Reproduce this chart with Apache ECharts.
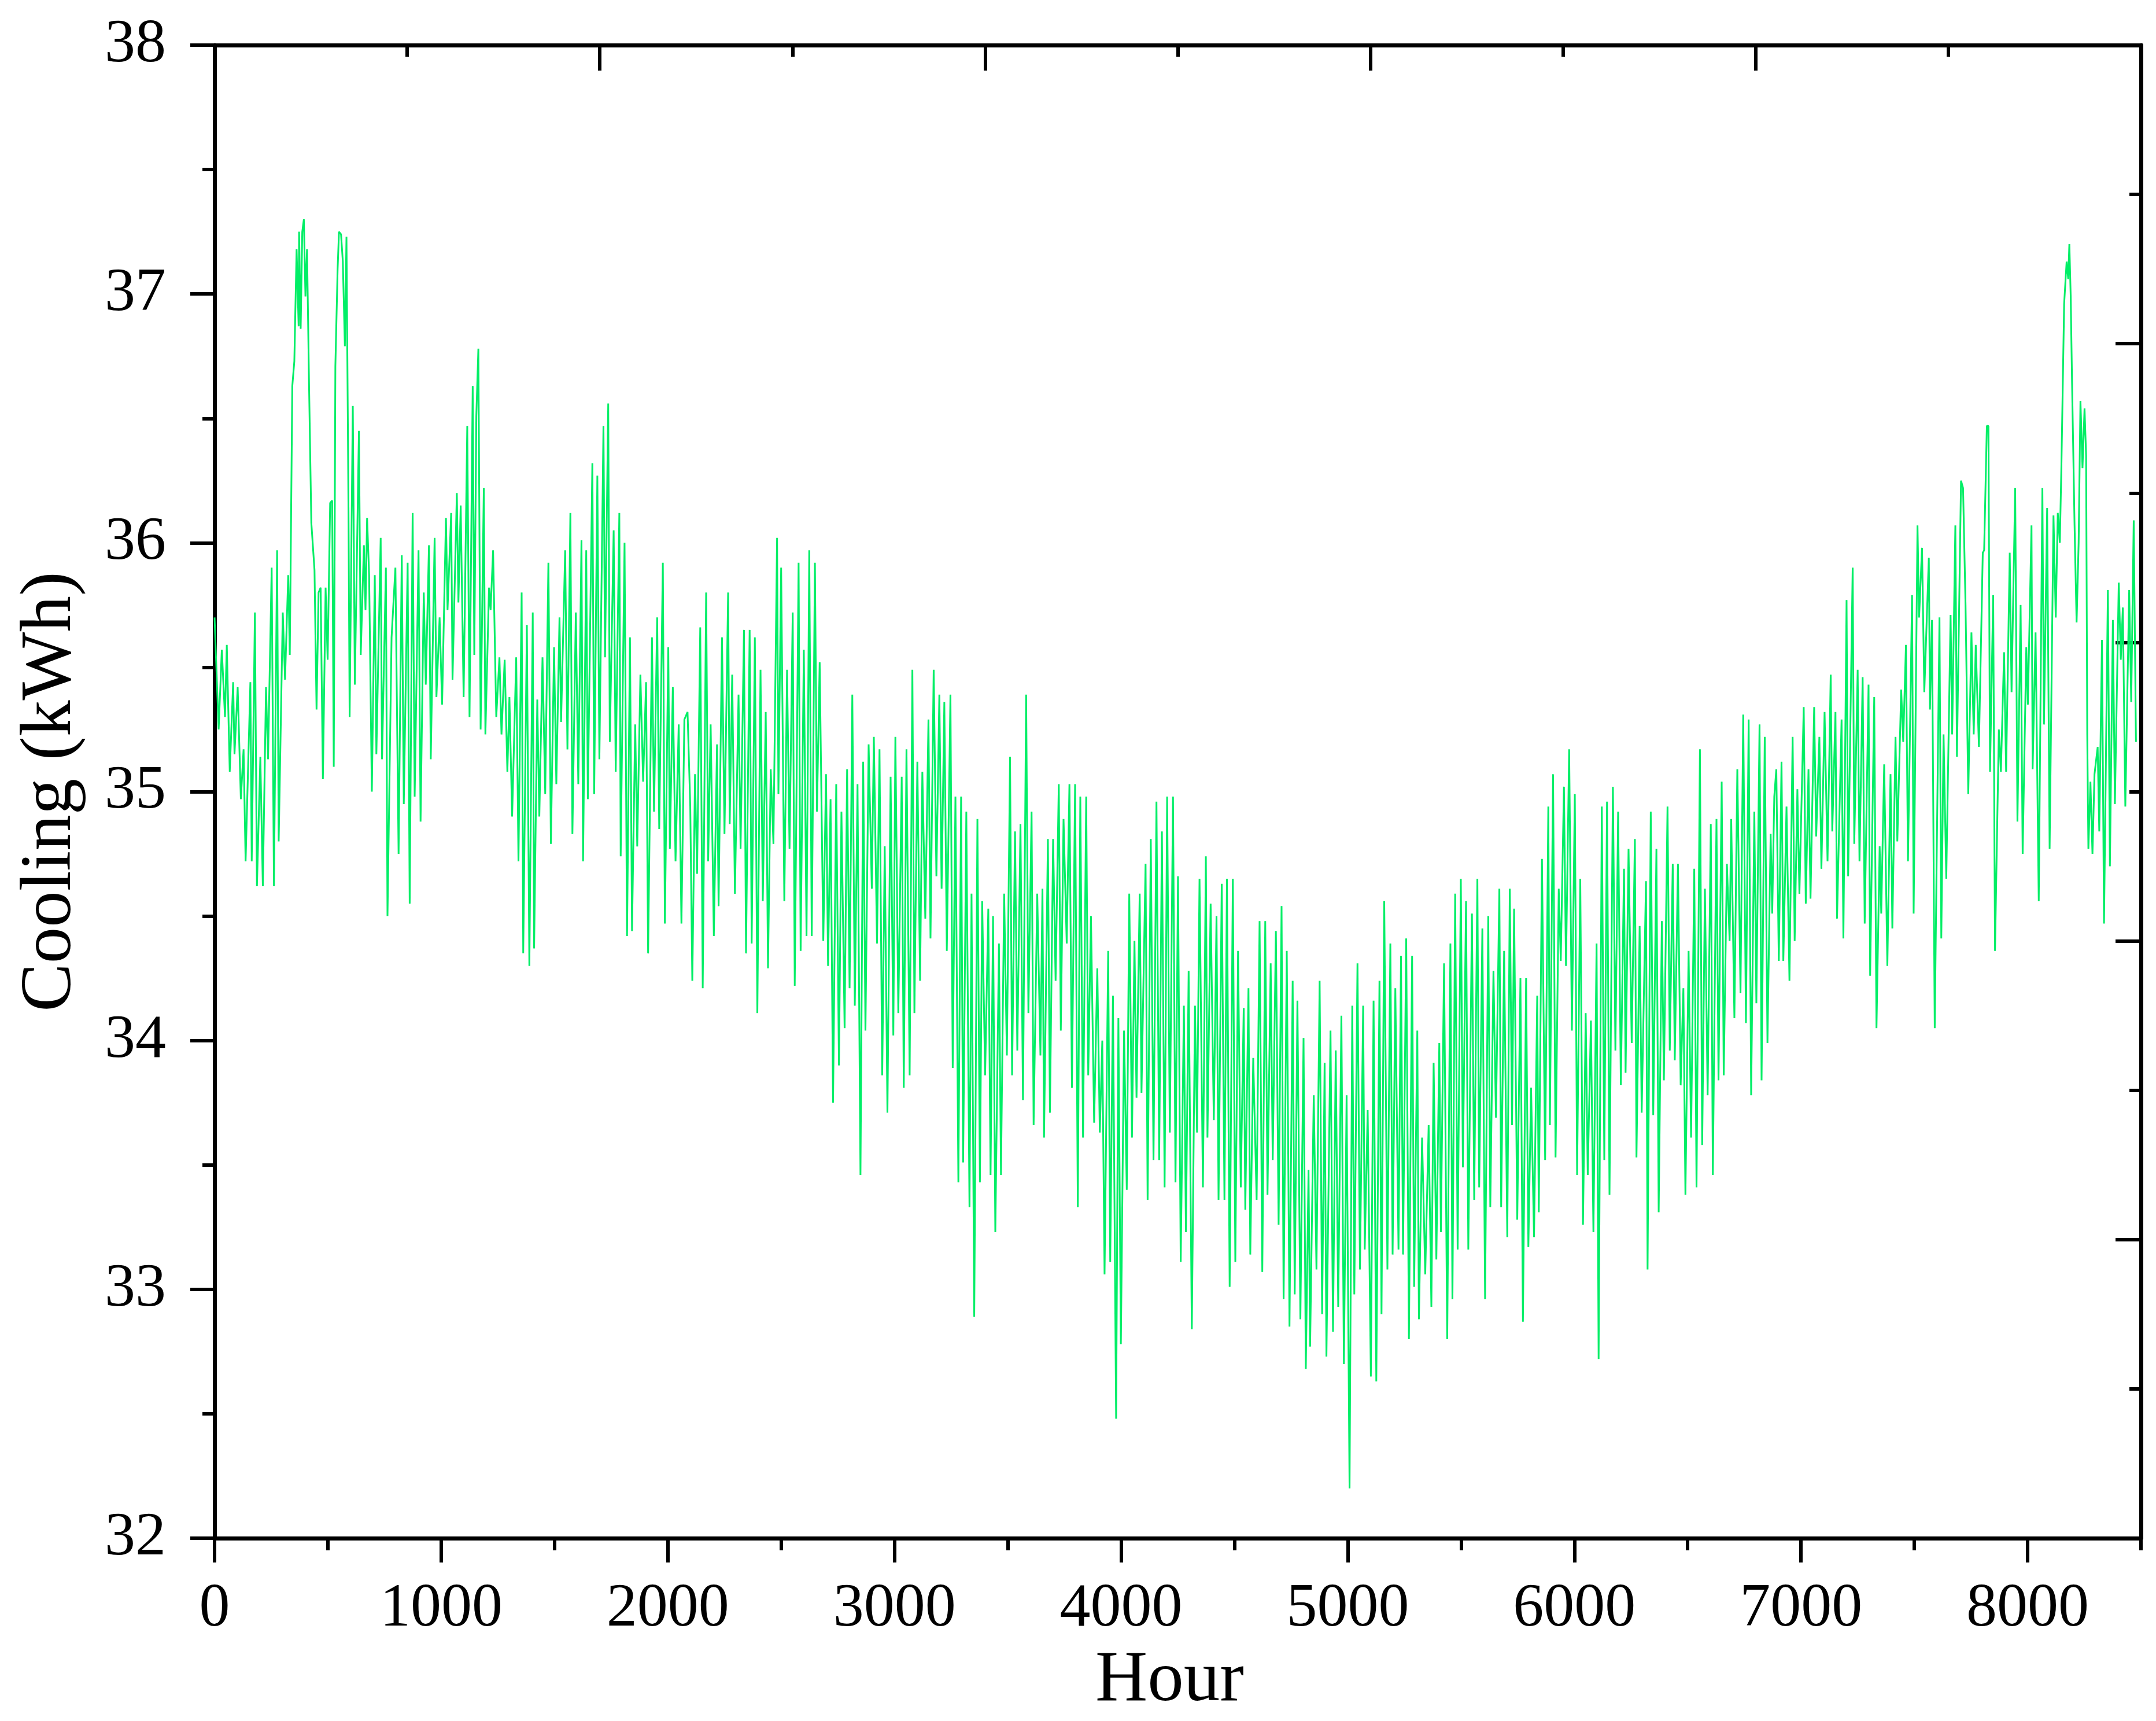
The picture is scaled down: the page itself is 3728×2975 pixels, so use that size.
<!DOCTYPE html>
<html>
<head>
<meta charset="utf-8">
<script src="https://cdn.jsdelivr.net/npm/echarts@6/dist/echarts.min.js"></script>
<style>
html,body{margin:0;padding:0;background:#fff;}
#chart{width:3728px;height:2975px;}
</style>
</head>
<body>
<div id="chart"></div>
<script>
// ---- data (hour, cooling kWh) ----
const hours = [
0,18,32,46,54,67,82,88,102,116,128,137,158,164,178,187,202,213,227,236,252,262,276,283,301,311,325,332,343,352,362,371,373,380,387,394,401,408,417,427,441,450,459,468,478,490,499,510,519,526,533,543,549,558,566,575,582,591,596,610,619,637,645,659,666,673,682,694,707,714,733,739,756,763,781,798,812,826,835,852,861,874,883,900,909,923,932,946,954,971,979,993,1004,1021,1028,1044,1050,1069,1076,1086,1099,1115,1125,1139,1146,1155,1164,1174,1188,1195,1211,1218,1229,1243,1257,1266,1280,1292,1301,1313,1331,1341,1355,1362,1378,1389,1404,1410,
1424,1433,1447,1459,1473,1484,1498,1508,1522,1529,1547,1557,1570,1579,1594,1605,1619,1626,1640,1647,1667,1675,1689,1698,1716,1723,1737,1744,1761,1770,1786,1792,1809,1820,1833,1842,1856,1865,1879,1891,1904,1913,1930,1939,1953,1962,1978,1987,2002,2009,2022,2034,2048,2060,2073,2087,2099,2108,2120,2129,2143,2154,2169,2178,2189,2203,2217,2224,2239,2250,2266,2273,2284,2296,2312,2321,2336,2345,2361,2370,2384,2395,2409,2419,2432,2442,2454,2466,2482,2488,2500,2514,2526,2537,2551,2560,2577,2586,2600,2612,2624,2635,2649,2658,2670,2686,2698,2707,2718,2729,2743,2755,2766,2780,2791,2802,2814,2825,
2837,2850,2862,2872,2886,2900,2909,2923,2934,2946,2957,2969,2983,2995,3004,3017,3032,3041,3053,3067,3079,3088,3101,3113,3123,3136,3150,3159,3173,3185,3198,3208,3220,3231,3247,3257,3269,3282,3294,3303,3317,3331,3340,3352,3366,3377,3387,3400,3414,3424,3435,3445,3461,3470,3484,3496,3510,3519,3532,3542,3556,3567,3581,3591,3605,3614,3630,3644,3653,3660,3677,3686,3700,3711,3725,3734,3746,3760,3772,3783,3797,3809,3820,3832,3846,3855,3867,3881,3895,3906,3917,3927,3943,3952,3964,3978,3988,3999,4013,4025,4036,4048,4059,4068,4082,4090,4108,4117,4131,4143,4156,4168,4180,4192,4203,4215,4229,4240,4251,4263,
4277,4286,4298,4312,4326,4335,4346,4361,4374,4381,4395,4409,4421,4430,4444,4456,4467,4479,4493,4504,4516,4528,4541,4548,4562,4570,4583,4598,4611,4623,4636,4646,4660,4669,4683,4695,4708,4717,4731,4743,4757,4766,4778,4791,4805,4815,4827,4834,4850,4862,4876,4887,4898,4906,4924,4935,4947,4958,4972,4983,4995,5008,5020,5029,5043,5054,5068,5075,5088,5102,5114,5126,5140,5149,5161,5175,5188,5198,5210,5224,5235,5244,5258,5270,5284,5293,5307,5314,5328,5342,5357,5369,5379,5391,5404,5411,5425,5439,5453,5462,5474,5485,5499,5508,5522,5532,5548,5558,5572,5580,5594,5606,5620,5629,5643,5654,5669,5677,
5690,5704,5715,5725,5734,5748,5762,5773,5787,5797,5809,5822,5836,5843,5857,5871,5885,5892,5906,5917,5931,5940,5954,5963,5977,5989,6002,6012,6026,6038,6050,6059,6073,6084,6098,6107,6121,6132,6144,6155,6170,6181,6193,6205,6219,6226,6239,6253,6267,6274,6288,6297,6316,6323,6337,6348,6362,6372,6386,6395,6411,6421,6434,6443,6457,6469,6481,6490,6504,6515,6529,6539,6554,6564,6576,6588,6602,6611,6627,6636,6650,6659,6673,6685,6692,6706,6719,6733,6745,6757,6769,6780,6794,6803,6817,6826,6840,6852,6866,6873,6882,6891,6902,6914,6922,6936,6949,6963,6972,6984,6993,7012,7021,7033,7042,7058,7067,7081,7090,7104,
7117,7131,7138,7152,7159,7179,7187,7201,7208,7228,7235,7250,7258,7272,7281,7298,7305,7323,7333,7347,7354,7367,7381,7395,7403,7417,7425,7442,7451,7463,7472,7490,7497,7514,7521,7534,7544,7564,7569,7578,7590,7611,7619,7629,7641,7660,7667,7681,7688,7706,7715,7726,7738,7752,7762,7771,7785,7794,7802,7808,7820,7827,7834,7848,7856,7873,7882,7896,7905,7921,7929,7945,7955,7969,7978,7994,8001,8017,8022,8035,8049,8065,8072,8086,8097,8114,8124,8133,8142,8149,8161,8172,8179,8184,8190,8196,8207,8216,8225,8233,8242,8251,8258,8263,8268,8277,8286,8295,8309,8316,8328,8337,8354,8363,8376,8385,8402,8411,8420,8431,8448,8457,8468,8478
];
const cooling = [
35.70,35.25,35.57,35.30,35.59,35.08,35.44,35.15,35.42,34.97,35.17,34.72,35.44,34.72,35.72,34.62,35.14,34.62,35.42,35.13,35.90,34.62,35.97,34.80,35.72,35.45,35.87,35.55,36.63,36.73,37.18,36.87,37.25,36.86,37.25,37.30,36.99,37.18,36.63,36.08,35.89,35.33,35.80,35.82,35.05,35.82,35.53,36.16,36.17,35.10,36.71,37.10,37.25,37.24,37.13,36.79,37.23,36.13,35.30,36.55,35.43,36.45,35.55,35.99,35.73,36.10,35.87,35.00,35.87,35.15,36.02,35.13,35.90,34.50,35.62,35.90,34.75,35.95,34.95,35.92,34.55,36.12,34.98,35.97,34.88,35.80,35.43,35.99,35.13,36.02,35.38,35.70,35.35,36.10,35.73,36.12,35.45,36.20,35.76,36.15,35.38,36.47,35.30,36.63,35.55,36.51,36.78,35.25,36.22,35.23,35.82,35.73,35.97,35.30,35.54,35.23,35.53,35.08,35.38,34.90,35.54,34.72,35.80,34.35,35.67,34.30,35.72,34.37,
35.37,34.90,35.54,34.99,35.92,34.79,35.58,35.03,35.70,35.28,35.97,35.17,36.12,34.83,35.72,35.03,36.01,34.72,35.97,34.97,36.32,34.99,36.27,35.13,36.47,35.54,36.56,35.20,36.05,35.08,36.12,34.74,36.00,34.42,35.62,34.44,35.27,34.78,35.47,35.04,35.44,34.35,35.62,34.92,35.70,34.85,35.92,34.47,35.58,34.77,35.42,34.72,35.27,34.47,35.29,35.32,34.94,34.24,35.07,34.67,35.66,34.21,35.80,34.72,35.27,34.42,35.19,34.54,35.62,34.83,35.80,34.87,35.47,34.59,35.39,34.77,35.65,34.35,35.65,34.39,35.62,34.11,35.49,34.56,35.32,34.29,35.09,34.79,36.02,34.99,35.90,34.56,35.49,34.77,35.72,34.22,35.92,34.36,35.57,34.42,35.97,34.42,35.92,34.92,35.52,34.40,35.07,34.30,34.97,33.75,35.03,33.90,34.92,34.05,35.09,34.21,35.39,34.14,
35.03,33.46,35.12,34.04,35.19,34.61,35.22,34.39,35.17,33.86,34.78,33.71,35.06,34.02,35.22,34.11,35.06,33.81,35.17,33.86,35.49,34.11,35.12,34.24,35.08,34.49,35.29,34.41,35.49,34.66,35.39,34.61,35.36,34.36,35.39,33.89,34.98,33.43,34.98,33.51,34.92,33.33,34.59,32.89,34.89,33.43,34.56,33.86,34.53,33.46,34.50,33.23,34.39,33.46,34.59,33.94,35.14,33.86,34.84,33.96,34.87,33.76,35.39,34.11,34.92,33.66,34.59,33.94,34.61,33.61,34.81,33.71,34.81,34.24,35.03,34.04,34.89,34.39,35.03,33.81,35.03,33.33,34.98,33.61,34.98,33.86,34.50,33.67,34.29,33.63,34.00,33.06,34.36,33.11,34.18,32.48,34.09,32.78,34.04,33.40,34.59,33.61,34.40,33.77,34.59,33.79,34.71,33.36,34.81,33.52,34.96,33.52,34.84,33.41,34.98,33.63,34.98,33.43,34.66,33.11,
34.14,33.23,34.28,32.84,34.14,33.63,34.65,33.41,34.74,33.61,34.55,33.68,34.50,33.36,34.63,33.36,34.65,33.01,34.65,33.11,34.36,33.41,34.13,33.32,34.21,33.14,33.93,33.36,34.48,33.07,34.48,33.38,34.31,33.52,34.44,33.26,34.54,32.96,34.36,32.85,34.24,32.98,34.16,32.88,34.01,32.68,33.48,32.77,33.78,33.08,34.24,32.90,33.91,32.73,34.04,32.83,33.96,32.93,34.10,32.70,33.78,32.20,34.14,32.98,34.31,33.08,34.14,33.16,33.72,32.65,34.16,32.63,34.24,32.90,34.56,33.08,34.39,33.14,34.21,33.16,34.34,33.14,34.41,32.80,34.34,33.01,34.04,32.88,33.61,33.06,33.66,32.93,33.91,33.12,33.99,33.23,34.31,32.80,34.39,32.96,34.59,33.16,34.65,33.49,34.56,33.16,34.51,33.36,34.65,33.41,34.45,32.96,34.50,33.33,34.28,33.69,34.61,33.33,
34.36,33.21,34.61,33.66,34.53,33.28,34.25,32.87,34.25,33.17,33.81,33.21,34.18,33.31,34.73,33.52,34.94,33.66,35.07,33.53,34.61,34.32,35.02,34.30,35.17,34.04,34.99,33.46,34.65,33.26,34.11,33.46,34.08,33.23,34.39,32.72,34.94,33.52,34.96,33.38,35.02,33.96,34.92,33.82,34.69,33.87,34.77,33.99,34.81,33.53,34.46,33.71,34.64,33.08,34.92,33.70,34.77,33.31,34.48,33.84,34.94,33.96,34.71,33.92,34.71,33.82,34.21,33.38,34.36,33.61,34.69,33.41,35.17,33.58,34.61,33.78,34.87,33.46,34.89,33.84,35.04,33.86,34.71,34.40,34.89,34.09,35.09,34.19,35.31,34.07,35.29,33.78,34.92,34.15,35.27,33.84,35.22,33.99,34.83,34.51,34.98,35.09,34.32,35.12,34.32,34.94,34.24,35.22,34.40,35.01,34.59,35.34,34.55,35.09,34.57,35.34,34.82,35.22,34.69,35.32,
34.72,35.47,34.84,35.32,34.49,35.29,34.41,35.77,34.66,35.90,34.79,35.49,34.72,35.46,34.47,35.43,34.26,35.38,34.05,34.78,34.51,35.11,34.30,35.07,34.45,35.22,34.80,35.41,35.20,35.59,34.72,35.79,34.51,36.07,35.70,35.98,35.40,35.94,35.33,35.69,34.05,35.70,34.41,35.23,34.65,35.71,35.23,36.07,35.14,36.25,36.22,35.75,34.99,35.64,35.23,35.59,35.18,35.59,35.96,35.97,36.47,36.47,35.08,35.79,34.36,35.25,35.08,35.56,35.08,35.96,35.40,36.22,34.88,35.75,34.75,35.58,35.35,36.07,35.09,35.64,34.56,36.22,35.27,36.14,34.77,36.11,35.70,36.12,36.00,36.31,36.96,37.13,37.06,37.20,36.99,36.64,36.07,35.68,36.00,36.57,36.30,36.54,36.35,35.23,34.77,35.04,34.75,35.07,35.18,34.84,35.61,34.47,35.81,34.70,35.69,34.95,35.84,35.53,35.74,34.94,35.81,35.36,36.09,35.20
];
const xTicks = [0,1000,2000,3000,4000,5000,6000,7000,8000];
const xLabel = 'Hour';
const yLabel = 'Cooling (kWh)';

const seriesData = hours.map((h, i) => [h, cooling[i]]);

const FONT = '"Liberation Serif", "Times New Roman", serif';
const chart = echarts.init(document.getElementById('chart'), null, {renderer: 'canvas'});
const axisLineStyle = {color: '#000', width: 7};
const tickStyle = {color: '#000', width: 6};

chart.setOption({
  animation: false,
  backgroundColor: '#fff',
  grid: {left: 371, right: 26, top: 78, bottom: 316, containLabel: false},
  xAxis: [
    {
      type: 'value', position: 'bottom', min: 0, max: 8500, interval: 1000,
      name: xLabel, nameLocation: 'middle', nameGap: 185,
      nameTextStyle: {fontFamily: FONT, fontSize: 125, color: '#000', padding: [0, 28, 0, 0]},
      axisLine: {show: true, onZero: false, lineStyle: axisLineStyle},
      axisTick: {show: true, inside: false, length: 42, lineStyle: tickStyle, customValues: xTicks},
      minorTick: {show: false},
      axisLabel: {show: true, customValues: xTicks, margin: 70, fontFamily: FONT, fontSize: 106, color: '#000',
                  formatter: v => String(v)},
      splitLine: {show: false}
    },
    {
      type: 'value', position: 'bottom', min: 0, max: 8500, interval: 500,
      axisLine: {show: false, onZero: false},
      axisTick: {show: true, inside: false, length: 21, lineStyle: tickStyle},
      axisLabel: {show: false},
      splitLine: {show: false}
    },
    {
      type: 'value', position: 'top', min: 0, max: 5, interval: 1,
      axisLine: {show: true, onZero: false, lineStyle: axisLineStyle},
      axisTick: {show: true, inside: true, length: 44, lineStyle: tickStyle},
      minorTick: {show: true, splitNumber: 2, length: 20, lineStyle: tickStyle},
      axisLabel: {show: false},
      splitLine: {show: false}
    }
  ],
  yAxis: [
    {
      type: 'value', position: 'left', min: 32, max: 38, interval: 1,
      name: yLabel, nameLocation: 'middle', nameGap: 220, nameRotate: 90,
      nameTextStyle: {fontFamily: FONT, fontSize: 125, color: '#000'},
      axisLine: {show: true, onZero: false, lineStyle: axisLineStyle},
      axisTick: {show: true, inside: false, length: 42, lineStyle: tickStyle},
      minorTick: {show: true, splitNumber: 2, length: 21, lineStyle: tickStyle},
      axisLabel: {show: true, margin: 84, fontFamily: FONT, fontSize: 106, color: '#000'},
      splitLine: {show: false}
    },
    {
      type: 'value', position: 'right', min: 0, max: 5, interval: 1,
      axisLine: {show: true, onZero: false, lineStyle: axisLineStyle},
      axisTick: {show: true, inside: true, length: 44, lineStyle: tickStyle},
      minorTick: {show: true, splitNumber: 2, length: 20, lineStyle: tickStyle},
      axisLabel: {show: false},
      splitLine: {show: false}
    }
  ],
  series: [{
    type: 'line',
    xAxisIndex: 0, yAxisIndex: 0,
    data: seriesData,
    showSymbol: false,
    symbol: 'none',
    lineStyle: {color: '#00ee66', width: 3},
    z: 1
  }]
});
</script>
</body>
</html>
